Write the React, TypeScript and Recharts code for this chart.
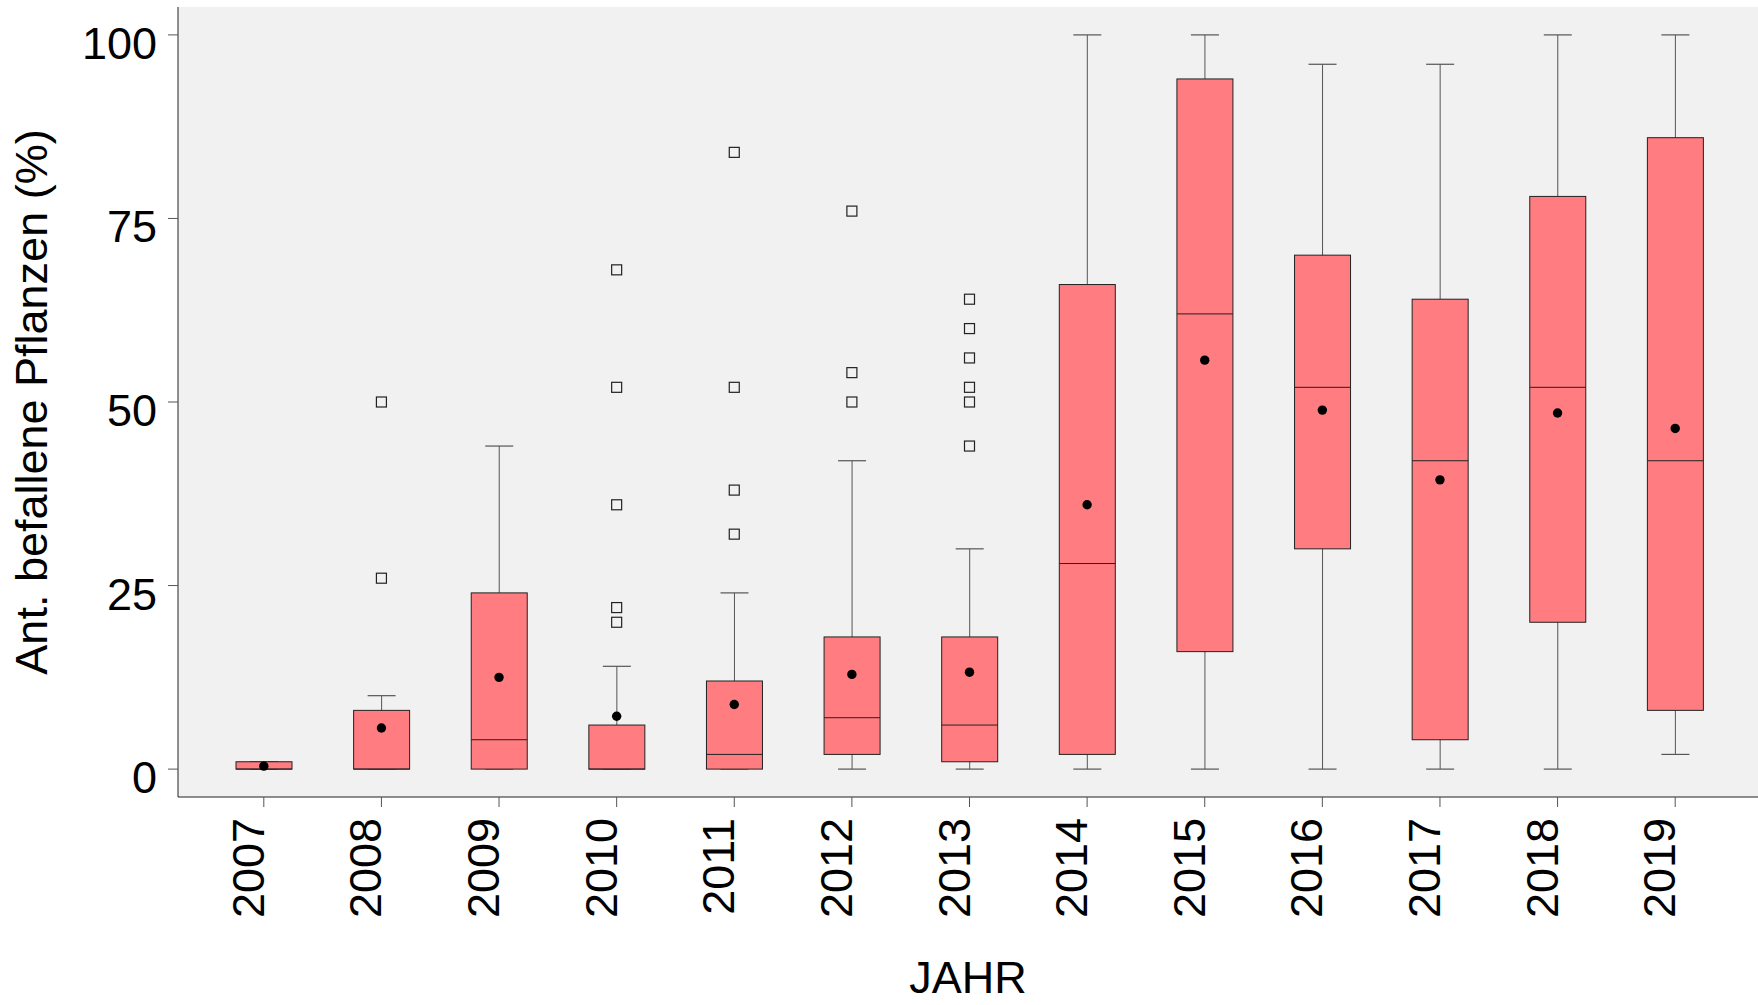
import {
  Bar,
  CartesianGrid,
  ComposedChart,
  Scatter,
  XAxis,
  YAxis,
} from "recharts";

const years = ["2007", "2008", "2009", "2010", "2011", "2012", "2013", "2014", "2015", "2016", "2017", "2018", "2019"];
const whiskerLow = [0, 0, 0, 0, 0, 0, 0, 0, 0, 0, 0, 0, 2];
const q1 = [0, 0, 0, 0, 0, 2, 1, 2, 16, 30, 4, 20, 8];
const median = [0, 0, 4, 0, 2, 7, 6, 28, 62, 52, 42, 52, 42];
const q3 = [1, 8, 24, 6, 12, 18, 18, 66, 94, 70, 64, 78, 86];
const whiskerHigh = [1, 10, 44, 14, 24, 42, 30, 100, 100, 96, 96, 100, 100];
const means = [0.4, 5.6, 12.5, 7.2, 8.8, 12.9, 13.2, 36, 55.7, 48.9, 39.4, 48.5, 46.4];

// Ausreißer je Jahr
const outlierYears = ["2008", "2008", "2010", "2010", "2010", "2010", "2010", "2011", "2011", "2011", "2011", "2012", "2012", "2012", "2013", "2013", "2013", "2013", "2013", "2013"];
const outlierValues = [26, 50, 20, 22, 36, 52, 68, 32, 38, 52, 84, 50, 54, 76, 44, 50, 52, 56, 60, 64];

const yTicks = [0, 25, 50, 75, 100];

const FONT = '"Liberation Sans", Arial, sans-serif';
const BOX_FILL = "#ff7c80";
const BG = "#f1f1f1";

const rows = years.map((year, i) => ({
  year,
  low: whiskerLow[i],
  q1: q1[i],
  median: median[i],
  q3: q3[i],
  high: whiskerHigh[i],
  mean: means[i],
}));

const outliers = outlierYears.map((year, i) => ({ year, value: outlierValues[i] }));

function BoxShape(props: any) {
  const { x, y, width, height, payload } = props;
  const top = Math.min(y, y + height);
  const h = Math.abs(height);
  const span = payload.high - payload.low;
  if (!span) return null;
  const toY = (v: number) => top + (h * (payload.high - v)) / span;
  const cx = x + width / 2;
  const cap = width / 2;
  const boxTop = toY(payload.q3);
  const boxBottom = toY(payload.q1);
  const med = toY(payload.median);
  return (
    <g>
      <line x1={cx} x2={cx} y1={toY(payload.high)} y2={toY(payload.low)} stroke="#555" strokeWidth={1} />
      <line x1={cx - cap / 2} x2={cx + cap / 2} y1={toY(payload.high)} y2={toY(payload.high)} stroke="#555" strokeWidth={1.2} />
      <line x1={cx - cap / 2} x2={cx + cap / 2} y1={toY(payload.low)} y2={toY(payload.low)} stroke="#555" strokeWidth={1.2} />
      <rect x={x} y={boxTop} width={width} height={boxBottom - boxTop} fill={BOX_FILL} stroke="#222" strokeWidth={1} />
      <line x1={x} x2={x + width} y1={med} y2={med} stroke="#222" strokeWidth={1} />
    </g>
  );
}

function XTick(props: any) {
  const { x, y, payload } = props;
  return (
    <text
      x={x}
      y={y}
      transform={`rotate(-90 ${x} ${y})`}
      textAnchor="end"
      fontSize={45}
      fontFamily={FONT}
      fill="#000"
    >
      {payload.value}
    </text>
  );
}

function YTick(props: any) {
  const { x, y, payload } = props;
  return (
    <text x={x} y={y} dy={24} textAnchor="end" fontSize={45} fontFamily={FONT} fill="#000">
      {payload.value}
    </text>
  );
}

export default function App() {
  return (
    <div style={{ position: "absolute", left: 0, top: 0, background: "#fff" }}>
      <ComposedChart
        width={1758}
        height={1005}
        data={rows}
        margin={{ top: 7, right: 0, bottom: 0, left: 0 }}
      >
        <CartesianGrid horizontal={false} vertical={false} fill={BG} />
        <XAxis
          dataKey="year"
          type="category"
          allowDuplicatedCategory={false}
          height={208}
          padding={{ left: 27, right: 24 }}
          tickSize={10}
          tickMargin={11}
          tick={<XTick />}
          tickLine={{ stroke: "#555" }}
          axisLine={{ stroke: "#222" }}
          interval={0}
          label={{
            content: (p: any) => {
              const vb = p.viewBox;
              return (
                <text x={vb.x + vb.width / 2} y={993} textAnchor="middle" fontSize={45} fontFamily={FONT} fill="#000">
                  JAHR
                </text>
              );
            },
          }}
        />
        <XAxis
          xAxisId="top"
          orientation="top"
          dataKey="year"
          type="category"
          allowDuplicatedCategory={false}
          height={0}
          tick={false}
          tickLine={false}
          axisLine={{ stroke: "#222", strokeWidth: 1.2 }}
        />
        <YAxis
          type="number"
          domain={[-3.8, 103.8]}
          allowDataOverflow
          ticks={yTicks}
          width={178}
          tickSize={10}
          tickMargin={11}
          tick={<YTick />}
          tickLine={{ stroke: "#555" }}
          axisLine={{ stroke: "#222" }}
          label={{
            content: (p: any) => {
              const vb = p.viewBox;
              const cy = vb.y + vb.height / 2;
              return (
                <text
                  x={47}
                  y={cy}
                  transform={`rotate(-90 47 ${cy})`}
                  textAnchor="middle"
                  fontSize={45}
                  fontFamily={FONT}
                  fill="#000"
                >
                  Ant. befallene Pflanzen (%)
                </text>
              );
            },
          }}
        />
        <Bar
          dataKey={(d: any) => [d.low, d.high]}
          barSize={56}
          shape={<BoxShape />}
          isAnimationActive={false}
        />
        <Scatter
          dataKey="mean"
          isAnimationActive={false}
          shape={(p: any) => <circle cx={p.cx} cy={p.cy} r={4.7} fill="#000" />}
        />
        <Scatter
          data={outliers}
          dataKey="value"
          isAnimationActive={false}
          shape={(p: any) => (
            <rect x={p.cx - 5} y={p.cy - 5} width={10} height={10} fill="none" stroke="#222" strokeWidth={1.2} />
          )}
        />
      </ComposedChart>
    </div>
  );
}
